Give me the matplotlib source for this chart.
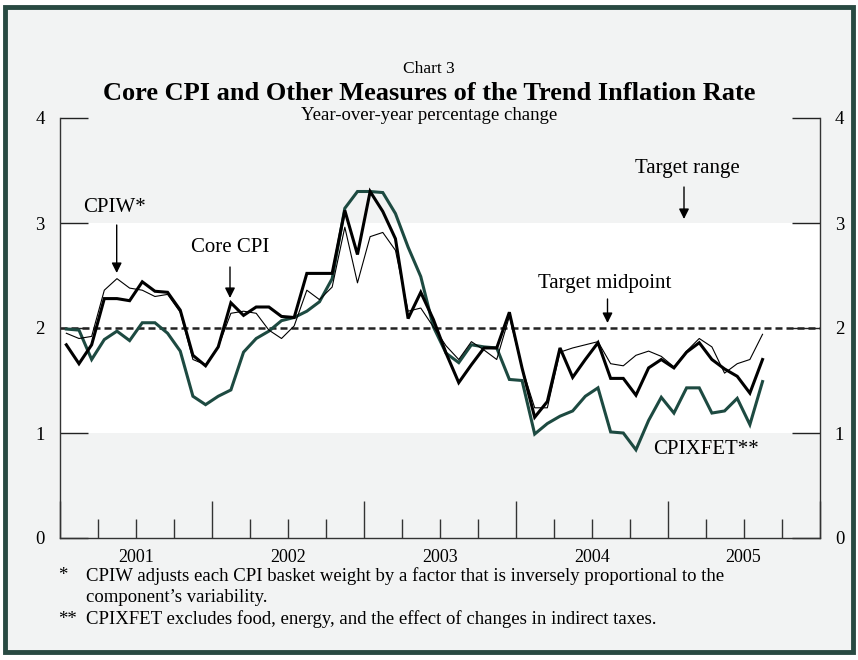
import matplotlib
matplotlib.use("Agg")
import matplotlib.pyplot as plt
from matplotlib.patches import Rectangle
from matplotlib.ticker import FixedLocator, FuncFormatter
import numpy as np

plt.rcParams['font.family'] = ['Liberation Serif', 'DejaVu Serif']

# ---- data (monthly, Jan 2001 - Aug 2005), year-over-year % change ----
start_year = 2001
core_cpi = [1.84, 1.66, 1.84, 2.28, 2.28, 2.26, 2.44, 2.35, 2.34, 2.17, 1.74, 1.64,
            1.82, 2.24, 2.12, 2.20, 2.20, 2.11, 2.10, 2.52, 2.52, 2.52, 3.12, 2.70,
            3.30, 3.11, 2.85, 2.09, 2.34, 2.08, 1.76, 1.48, 1.65, 1.81, 1.81, 2.15,
            1.62, 1.15, 1.30, 1.81, 1.53, 1.70, 1.86, 1.52, 1.52, 1.36, 1.62, 1.70,
            1.62, 1.77, 1.86, 1.70, 1.61, 1.54, 1.38, 1.70]
cpiw = [1.95, 1.90, 1.92, 2.36, 2.47, 2.38, 2.36, 2.30, 2.32, 2.15, 1.70, 1.65,
        1.82, 2.14, 2.16, 2.14, 1.98, 1.90, 2.02, 2.36, 2.27, 2.39, 2.96, 2.43,
        2.87, 2.91, 2.74, 2.16, 2.19, 2.01, 1.83, 1.70, 1.87, 1.79, 1.70, 2.11,
        1.62, 1.24, 1.24, 1.77, 1.81, 1.84, 1.87, 1.66, 1.64, 1.74, 1.78, 1.73,
        1.63, 1.78, 1.90, 1.82, 1.57, 1.66, 1.70, 1.94]
cpixfet = [1.99, 1.98, 1.70, 1.89, 1.97, 1.88, 2.05, 2.05, 1.95, 1.78, 1.35, 1.27,
           1.35, 1.41, 1.77, 1.90, 1.97, 2.07, 2.10, 2.16, 2.25, 2.47, 3.14, 3.30,
           3.30, 3.29, 3.09, 2.77, 2.49, 2.01, 1.76, 1.67, 1.84, 1.82, 1.81, 1.51,
           1.50, 0.99, 1.09, 1.16, 1.21, 1.35, 1.43, 1.01, 1.00, 0.84, 1.12, 1.34,
           1.19, 1.43, 1.43, 1.19, 1.21, 1.33, 1.08, 1.49]
years = [2001, 2002, 2003, 2004, 2005]
y_ticks = [0, 1, 2, 3, 4]
target_low, target_high, target_mid = 1, 3, 2

months = np.arange(len(core_cpi))
x = start_year + (months + 0.5) / 12.0

BG = '#f2f3f3'
GREEN = '#1d4a41'
BORDER = '#284a42'

fig = plt.figure(figsize=(8.58, 6.60), dpi=100)
fig.patch.set_facecolor('white')
fig.patches.append(Rectangle((5/858, 8/660), 848/858, 645/660, transform=fig.transFigure,
                             facecolor=BG, edgecolor=BORDER, linewidth=3.5, zorder=-10))

ax = fig.add_axes([60/858, 1-538/660, (819.5-60)/858, (538-118)/660])
ax.set_facecolor(BG)
ax.set_xlim(years[0], years[-1] + 1)
ax.set_ylim(y_ticks[0], y_ticks[-1])
ax.axhspan(target_low, target_high, facecolor='white', edgecolor='none', zorder=0)
ax.axhline(target_mid, color='#222222', lw=1.8, ls=(0, (2.8, 1.6)), zorder=1)

ax.plot(x, cpiw, color='black', lw=0.8, zorder=3)
ax.plot(x, cpixfet, color=GREEN, lw=2.2, zorder=2, solid_joinstyle='miter')
ax.plot(x, core_cpi, color='black', lw=2.2, zorder=4, solid_joinstyle='miter')

for s in ['left', 'right', 'bottom']:
    ax.spines[s].set_color('#333333')
    ax.spines[s].set_linewidth(1.0)
ax.spines['top'].set_visible(False)

# y ticks
ax.set_yticks(y_ticks)
ax.set_yticklabels([str(v) for v in y_ticks])
ax.tick_params(axis='y', direction='in', length=20, width=1.0, color='#222222',
               left=True, right=True, labelleft=True, labelright=True,
               labelsize=13.5, pad=11)

# x ticks: major at year boundaries (tall), minor at quarters with year labels mid-year
ax.xaxis.set_major_locator(FixedLocator([y for y in range(years[0], years[-1] + 2)]))
ax.xaxis.set_major_formatter(FuncFormatter(lambda v, p: ''))
quarters = [y + q / 4 for y in years for q in (1, 2, 3)]
ax.xaxis.set_minor_locator(FixedLocator(quarters))
ax.xaxis.set_minor_formatter(FuncFormatter(
    lambda v, p: str(int(v)) if abs(v - int(v) - 0.5) < 1e-6 else ''))
ax.tick_params(axis='x', which='major', direction='in', length=27, width=1.0,
               color='#333333', top=False)
ax.tick_params(axis='x', which='minor', direction='in', length=13.5, width=1.0,
               color='#333333', top=False, labelsize=13, pad=8)

def px2x(px):
    return years[0] + (px - 60) / 151.9

def py2y(py):
    return (538 - py) / 105.0

arrow = dict(arrowstyle='-|>', color='black', lw=1.0, mutation_scale=15,
             shrinkA=0, shrinkB=0)
fs = 15
ax.annotate('', xy=(px2x(116.7), py2y(273)), xytext=(px2x(116.7), py2y(225)), arrowprops=arrow)
ax.text(px2x(115), py2y(207), 'CPIW*', ha='center', va='center', fontsize=fs)
ax.annotate('', xy=(px2x(230), py2y(298)), xytext=(px2x(230), py2y(267)), arrowprops=arrow)
ax.text(px2x(230), py2y(248), 'Core CPI', ha='center', va='center', fontsize=fs)
ax.annotate('', xy=(px2x(684), py2y(219)), xytext=(px2x(684), py2y(187)), arrowprops=arrow)
ax.text(px2x(687), py2y(168), 'Target range', ha='center', va='center', fontsize=fs)
ax.annotate('', xy=(px2x(607.5), py2y(323)), xytext=(px2x(607.5), py2y(299)), arrowprops=arrow)
ax.text(px2x(605), py2y(283), 'Target midpoint', ha='center', va='center', fontsize=fs)
ax.text(px2x(706), py2y(450), 'CPIXFET**', ha='center', va='center', fontsize=fs)

# titles
def fy(py):
    return 1 - py / 660

fig.text(429/858, fy(73), 'Chart 3', ha='center', va='baseline', fontsize=12.5)
fig.text(429/858, fy(100), 'Core CPI and Other Measures of the Trend Inflation Rate',
         ha='center', va='baseline', fontsize=19, fontweight='bold')
fig.text(429/858, fy(120), 'Year-over-year percentage change', ha='center', va='baseline',
         fontsize=13.5)

# footnotes
fnf = 13.5
fig.text(58/858, fy(576), '*', ha='left', va='center', fontsize=fnf)
fig.text(86/858, fy(576), 'CPIW adjusts each CPI basket weight by a factor that is inversely proportional to the',
         ha='left', va='center', fontsize=fnf)
fig.text(86/858, fy(597), 'component\u2019s variability.', ha='left', va='center', fontsize=fnf)
fig.text(58/858, fy(619), '**', ha='left', va='center', fontsize=fnf)
fig.text(86/858, fy(619), 'CPIXFET excludes food, energy, and the effect of changes in indirect taxes.',
         ha='left', va='center', fontsize=fnf)

fig.savefig('out.png', dpi=100, facecolor=fig.get_facecolor())
